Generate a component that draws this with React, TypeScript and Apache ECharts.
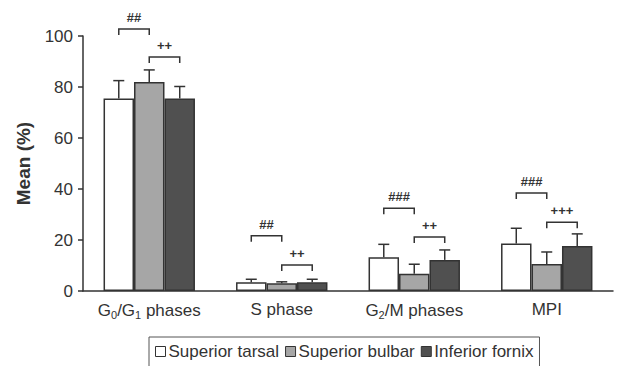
import React, { useEffect, useRef } from "react";
import * as echarts from "echarts";

// Cell-cycle phase categories and their rich-text labels (with subscripts)
const categories = ["G0/G1 phases", "S phase", "G2/M phases", "MPI"];
const categoryLabels = [
  "G{sub|0}/G{sub|1} phases",
  "S phase",
  "G{sub|2}/M phases",
  "MPI",
];

const seriesNames = ["Superior tarsal", "Superior bulbar", "Inferior fornix"];

// Means (%) per region
const superiorTarsal = [75.5, 3.4, 13.2, 18.6];
const superiorBulbar = [82.0, 3.0, 6.8, 10.6];
const inferiorFornix = [75.5, 3.4, 12.2, 17.6];

// Standard deviations (upper whiskers)
const superiorTarsalSD = [7.0, 1.2, 5.1, 6.0];
const superiorBulbarSD = [4.7, 0.6, 3.7, 4.7];
const inferiorFornixSD = [4.7, 1.2, 3.9, 4.8];

// Significance brackets: [category, from bar, to bar, height (%), marker]
const brackets: [number, number, number, number, string][] = [
  [0, 0, 1, 102.7, "##"],
  [0, 1, 2, 91.8, "++"],
  [1, 0, 1, 21.7, "##"],
  [1, 1, 2, 10.2, "++"],
  [2, 0, 1, 32.5, "###"],
  [2, 1, 2, 21.2, "++"],
  [3, 0, 1, 38.4, "###"],
  [3, 1, 2, 27.0, "+++"],
];

const yTicks = { min: 0, max: 100, interval: 20 };

const BAR_FRACTION = 0.23;
const INK = "#333333";
const FONT = "'Liberation Sans', Arial, sans-serif";
const fills = ["#ffffff", "#a6a6a6", "#505050"];
const means = [superiorTarsal, superiorBulbar, inferiorFornix];
const sds = [superiorTarsalSD, superiorBulbarSD, inferiorFornixSD];

function barCenterX(api: any, cat: number, idx: number, y: number) {
  const p = api.coord([cat, y]);
  const bw = api.size([1, 0])[0] * BAR_FRACTION;
  return [p[0] + (idx - 1) * bw, p[1]];
}

export default function App() {
  const ref = useRef<HTMLDivElement>(null);

  useEffect(() => {
    if (!ref.current) return;
    const chart = echarts.init(ref.current, undefined, { renderer: "svg" });

    const barSeries = seriesNames.map((name, i) => ({
      name,
      type: "bar",
      data: means[i],
      barWidth: BAR_FRACTION * 100 + "%",
      barGap: "0%",
      itemStyle: { color: fills[i], borderColor: INK, borderWidth: 1.5 },
      z: 2,
    }));

    const errorSeries = seriesNames.map((name, i) => ({
      name: name + " SD",
      type: "custom",
      z: 3,
      data: means[i].map((m, c) => [c, m, sds[i][c]]),
      renderItem: (params: any, api: any) => {
        const c = api.value(0);
        const m = api.value(1);
        const e = api.value(2);
        const b = barCenterX(api, c, i, m);
        const t = barCenterX(api, c, i, m + e);
        const cap = 5.5;
        return {
          type: "group",
          children: [
            {
              type: "line",
              shape: { x1: b[0], y1: b[1], x2: t[0], y2: t[1] },
              style: { stroke: INK, lineWidth: 1.5 },
            },
            {
              type: "line",
              shape: { x1: t[0] - cap, y1: t[1], x2: t[0] + cap, y2: t[1] },
              style: { stroke: INK, lineWidth: 1.5 },
            },
          ],
        };
      },
    }));

    const bracketSeries = {
      name: "significance",
      type: "custom",
      clip: false,
      z: 4,
      data: brackets.map((b) => [b[0], b[1], b[2], b[3], b[4]]),
      renderItem: (params: any, api: any) => {
        const b = brackets[params.dataIndex];
        const a = barCenterX(api, b[0], b[1], b[3]);
        const z = barCenterX(api, b[0], b[2], b[3]);
        const drop = 6;
        return {
          type: "group",
          children: [
            {
              type: "polyline",
              shape: {
                points: [
                  [a[0], a[1] + drop],
                  [a[0], a[1]],
                  [z[0], z[1]],
                  [z[0], z[1] + drop],
                ],
              },
              style: { stroke: INK, lineWidth: 1.5, fill: "none" },
            },
            {
              type: "text",
              x: (a[0] + z[0]) / 2,
              y: a[1] - 5,
              style: {
                text: b[4],
                align: "center",
                verticalAlign: "bottom",
                fill: INK,
                font: "bold 13px " + FONT,
              },
            },
          ],
        };
      },
    };

    chart.setOption({
      animation: false,
      textStyle: { fontFamily: FONT, color: INK },
      grid: { left: 83, right: 31, top: 36, bottom: 75 },
      legend: {
        data: seriesNames,
        left: 149,
        top: 337,
        icon: "rect",
        itemWidth: 10,
        itemHeight: 10,
        itemGap: 6,
        padding: [6, 6, 12, 6],
        borderColor: "#555555",
        borderWidth: 1,
        textStyle: { fontSize: 17, color: INK, padding: [0, 0, 0, -2] },
        itemStyle: { borderColor: INK, borderWidth: 1 },
      },
      xAxis: {
        type: "category",
        data: categories,
        axisLine: { lineStyle: { color: INK, width: 1.5 } },
        axisTick: { length: 5, lineStyle: { color: INK, width: 1.5 } },
        axisLabel: {
          interval: 0,
          margin: 10,
          fontSize: 17,
          color: INK,
          formatter: (v: string) => categoryLabels[categories.indexOf(v)],
          rich: {
            sub: { fontSize: 11, color: INK, padding: [8, 0, 0, 0] },
          },
        },
      },
      yAxis: {
        type: "value",
        min: yTicks.min,
        max: yTicks.max,
        interval: yTicks.interval,
        name: "Mean (%)",
        nameLocation: "middle",
        nameGap: 50,
        nameTextStyle: { fontSize: 19, fontWeight: "bold", color: INK },
        axisLine: { show: true, lineStyle: { color: INK, width: 1.5 } },
        axisTick: { show: true, length: 5, lineStyle: { color: INK, width: 1.5 } },
        axisLabel: { fontSize: 17, color: INK, margin: 10 },
        splitLine: { show: false },
      },
      series: [...barSeries, ...errorSeries, bracketSeries],
    });

    return () => chart.dispose();
  }, []);

  return (
    <div
      ref={ref}
      style={{ position: "fixed", left: 0, top: 0, width: 644, height: 366, background: "#fff" }}
    />
  );
}
